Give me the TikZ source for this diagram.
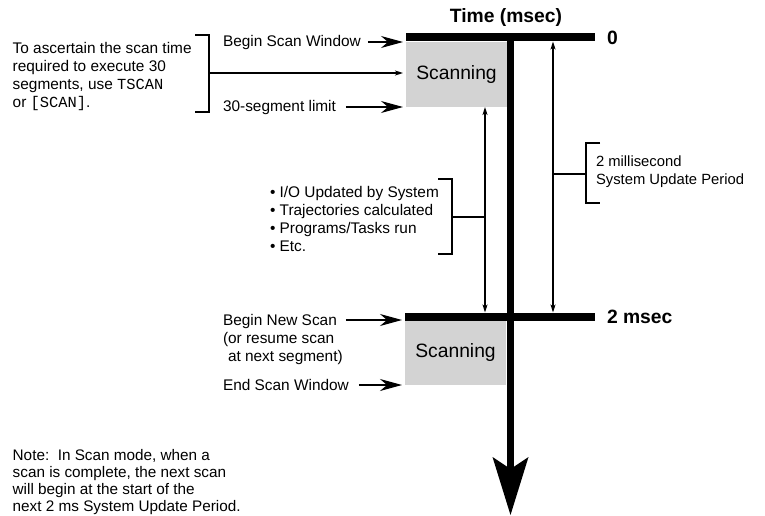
\documentclass[tikz,border=0pt]{standalone}
\usepackage{fontspec}
\setmainfont{Liberation Sans}
\setmonofont{Liberation Mono}
\usetikzlibrary{arrows.meta,calc,positioning}
\definecolor{scangray}{RGB}{211,211,211}
\tikzset{
	timing diagram/.style={
		x=1pt, y=-1pt,
		font=\fontsize{15.4}{18}\selectfont,
		every node/.style={inner sep=0pt, outer sep=0pt},
		lbl/.style={text height=11pt, text depth=1pt},
		heading/.style={font=\fontsize{19.3}{22}\selectfont\bfseries},
		ar/.style={-{Stealth[length=22pt,width=12pt,inset=7pt]}, line width=1.3pt, shorten >=3pt},
		sar/.style={-{Stealth[length=8pt,width=5pt,inset=2pt]}, line width=1.3pt, shorten >=3pt},
		dar/.style={{Stealth[length=8pt,width=5pt,inset=2pt]}-{Stealth[length=8pt,width=5pt,inset=2pt]},
			line width=1.3pt},
		brak/.style={line width=2pt},
		link/.style={line width=1.3pt}
		},
	scan box/.style={fill=scangray, minimum width=101pt, minimum height=65pt, anchor=north west,
		font=\fontsize{19.3}{22}\selectfont},
	time bar/.style={line width=8pt},
	time axis/.style={line width=7pt, -{Stealth[length=58pt,width=36pt,inset=12pt,line width=0pt]}}
}

\begin{document}
\begin{tikzpicture}[timing diagram]
   \useasboundingbox (0,0) rectangle (765,516);
   \node[scan box] (scan1) at (406,42) {Scanning};
   \node[scan box] (scan2) at (405,320) {Scanning};
   \coordinate (t0w) at (406,37.5);
   \coordinate (t0e) at (595,37.5);
   \coordinate (t2w) at (405,316.5);
   \coordinate (t2e) at (595,316.5);
   \coordinate (axtop) at (510.5,33.5);
   \coordinate (axend) at (510.5,515);
   \draw[time bar] (t0w) -- (t0e);
   \draw[time bar] (t2w) -- (t2e);
   \draw[time axis] (axtop) -- (axend);
   \node[heading, anchor=base] (title) at (506,23) {Time (msec)};
   \node[heading, right=12pt of t0e] (t0) {0};
   \node[heading, right=12pt of t2e] (t2) {2 msec};
   % first scan window
   \node[lbl, anchor=west] (bsw) at (223,42) {Begin Scan Window};
   \node[lbl, anchor=west] (seg) at (223,107) {30-segment limit};
   \node[anchor=north west, align=left] (hint) at (12.7,42)
      {To ascertain the scan time\\required to execute 30\\segments, use \texttt{TSCAN}\\or \texttt{[SCAN]}.};
   \draw[ar] ([xshift=7pt]bsw.east) -- (bsw.east -| scan1.west);
   \draw[ar] ([xshift=10pt]seg.east) -- (seg.east -| scan1.west);
   \draw[brak] (195,35) -| (209,112) -- (195,112);
   \coordinate (hb) at (209,73);
   \draw[sar] (hb) -- (hb -| scan1.west);
   % between the windows
   \coordinate (gapl) at ([xshift=-22pt]scan1.south east);
   \coordinate (per) at (553,37.5);
   \draw[dar, shorten >=4pt] (gapl) -- (gapl |- t2w);
   \draw[dar, shorten <=4pt, shorten >=4pt] (per) -- (per |- t2w);
   \node[anchor=north west, align=left] (tasks) at (270,186)
      {• I/O Updated by System\\• Trajectories calculated\\• Programs/Tasks run\\• Etc.};
   \draw[brak] (438,179) -| (452,254) -- (438,254);
   \coordinate (tb) at (452,217);
   \draw[link] (tb) -- (tb -| gapl);
   \node[anchor=north west, align=left, font=\fontsize{14.8}{18}\selectfont] (period) at (596,155.5)
      {2 millisecond\\System Update Period};
   \draw[brak] (600,143) -| (586,203) -- (600,203);
   \coordinate (pb) at (586,174);
   \draw[link] (pb) -- (pb -| per);
   % second scan window
   \node[lbl, anchor=west] (bns) at (223,320) {Begin New Scan};
   \node[below=6pt of bns.south west, anchor=north west, align=left] (resume)
      {(or resume scan\\\hspace*{5pt}at next segment)};
   \node[lbl, anchor=west] (esw) at (223,385) {End Scan Window};
   \draw[ar] ([xshift=9pt]bns.east) -- (bns.east -| scan2.west);
   \draw[ar] ([xshift=10pt]esw.east) -- (esw.east -| scan2.west);
   \node[anchor=north west, align=left, font=\fontsize{15.3}{17.3}\selectfont] (note) at (12.7,449)
      {Note:\ \ In Scan mode, when a\\scan is complete, the next scan\\will begin at the start of the\\next 2 ms System Update Period.};
\end{tikzpicture}
\end{document}
